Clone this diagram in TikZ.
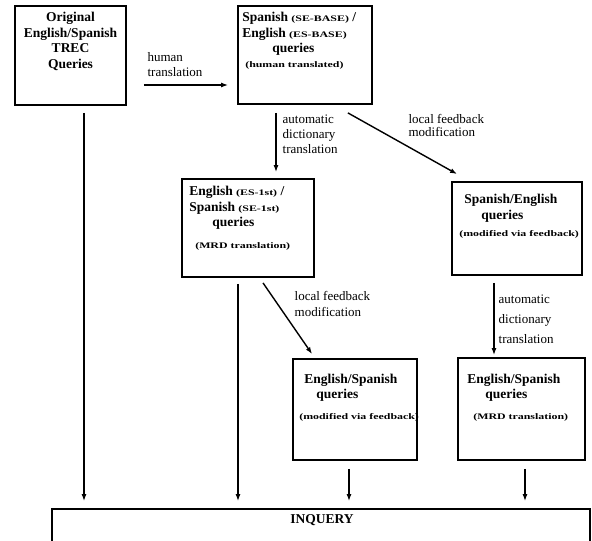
\documentclass[tikz,border=0pt]{standalone}
\usepackage{fontspec}
\setmainfont{Liberation Serif}
\usetikzlibrary{arrows.meta,positioning,calc}
\newcommand{\sm}[1]{\scalebox{1.4}[1]{\fontsize{8.5}{10}\selectfont #1}}
\tikzset{
  qbox/.style={draw, line width=1.8pt, inner sep=0pt},
  qtext/.style={inner sep=0pt, font=\fontsize{13.5}{15.5}\selectfont\bfseries},
  elabel/.style={inner sep=0pt, align=left, font=\fontsize{13}{15}\selectfont},
  flow/.style={-{Latex[length=7pt,width=5pt]}, line width=1.4pt},
}
\begin{document}
\begin{tikzpicture}[x=1pt,y=-1pt]
  \clip (0,0) rectangle (592,541);
  % boxes
  \node[qbox, minimum width=111pt, minimum height=99pt] (orig) at (70.5,55.5) {};
  \node[qbox, minimum width=134pt, minimum height=98pt] (base) at (305,55) {};
  \node[qbox, minimum width=132pt, minimum height=98pt] (mrd) at (248,228) {};
  \node[qbox, minimum width=130pt, minimum height=93pt] (fb) at (517,228.5) {};
  \node[qbox, minimum width=124pt, minimum height=101pt] (mrdfb) at (355,409.5) {};
  \node[qbox, minimum width=127pt, minimum height=102pt] (fbmrd) at (521.5,409) {};
  \node[qbox, minimum width=538pt, minimum height=71pt] (inq) at (321,544.5) {};
  % box texts
  \node[qtext, anchor=north, align=center] (origtext) at ([yshift=-7pt]orig.north)
    {Original\\English/Spanish\\TREC\\Queries};
  \node[qtext, anchor=north west, align=left] (basetext) at ([shift={(5,7)}]base.north west)
    {Spanish \sm{(SE-BASE)} /\\English \sm{(ES-BASE)}\\\hspace*{30pt}queries\\[-1pt]\hspace*{3pt}\sm{(human translated)}};
  \node[qtext, anchor=north west, align=left] (mrdtext) at ([shift={(8,8)}]mrd.north west)
    {English \sm{(ES-1st)} /\\Spanish \sm{(SE-1st)}\\\hspace*{23pt}queries\\[6pt]\hspace*{6pt}\sm{(MRD translation)}};
  \node[qtext, anchor=north west, align=left] (fbtext) at ([shift={(13,13)}]fb.north west)
    {Spanish/English\\\hspace*{17pt}queries\\[2pt]\hspace*{-5pt}\sm{(modified via feedback)}};
  \node[qtext, anchor=north west, align=left] (mrdfbtext) at ([shift={(12,15.5)}]mrdfb.north west)
    {English/Spanish\\\hspace*{12pt}queries\\[5pt]\hspace*{-5pt}\sm{(modified via feedback)}};
  \node[qtext, anchor=north west, align=left] (fbmrdtext) at ([shift={(10,16.5)}]fbmrd.north west)
    {English/Spanish\\\hspace*{18pt}queries\\[5pt]\hspace*{6pt}\sm{(MRD translation)}};
  \node[qtext, anchor=north] (inqtext) at ([shift={(1,6)}]inq.north) {INQUERY};
  % translation steps
  \draw[flow] ($(orig.east)+(17,29.5)$) coordinate (h1) -- ([xshift=-9pt]h1 -| base.west)
    node[elabel, pos=0, anchor=south west, shift={(3,-8)}] {human\\translation};
  \draw[flow] ($(base.south)+(-29,8)$) coordinate (d1) -- ([yshift=6pt]d1 |- mrd.north)
    node[elabel, pos=0, anchor=north west, shift={(6,1)}] {automatic\\dictionary\\translation};
  \draw[flow] ($(base.south east)+(-25,8)$) -- ($(fb.north west)+(6,-7)$)
    node[elabel, pos=0, anchor=north west, shift={(60,1)}, font=\fontsize{13}{12.5}\selectfont] {local feedback\\modification};
  \draw[flow] ($(mrd.south)+(15,5)$) -- ($(mrdfb.north west)+(20,-4)$)
    node[elabel, pos=0, anchor=north west, shift={(31,8)}, font=\fontsize{13}{16}\selectfont] {local feedback\\modification};
  \draw[flow] ($(fb.south)+(-23,7)$) coordinate (d2) -- ([yshift=2pt]d2 |- fbmrd.north)
    node[elabel, pos=0, anchor=north west, shift={(4,11)}, font=\fontsize{13}{20}\selectfont] {automatic\\dictionary\\translation};
  % into INQUERY
  \draw[flow] ($(orig.south)+(13.5,7)$) coordinate (i1) -- ([yshift=7pt]i1 |- inq.north);
  \draw[flow] ($(mrd.south)+(-10,6)$) coordinate (i2) -- ([yshift=7pt]i2 |- inq.north);
  \draw[flow] ($(mrdfb.south)+(-6,8)$) coordinate (i3) -- ([yshift=7pt]i3 |- inq.north);
  \draw[flow] ($(fbmrd.south)+(3.5,8)$) coordinate (i4) -- ([yshift=7pt]i4 |- inq.north);
\end{tikzpicture}
\end{document}
